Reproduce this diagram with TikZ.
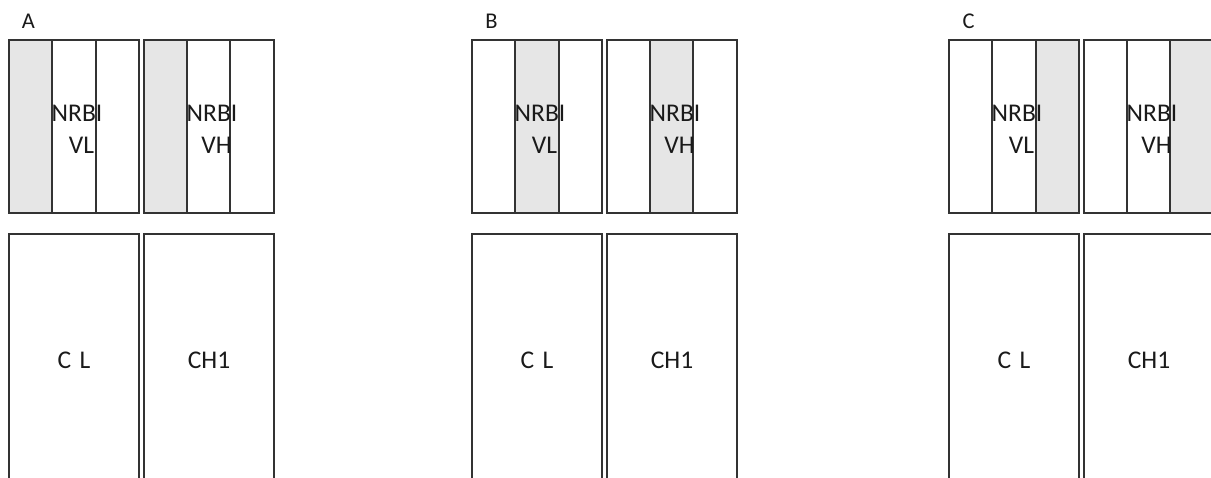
\documentclass[tikz,border=0pt]{standalone}
\usepackage{fontspec}
\setmainfont{Carlito}
\definecolor{shadegray}{HTML}{E6E6E6}
\definecolor{linegray}{HTML}{333333}
\definecolor{textgray}{HTML}{1A1A1A}
\tikzset{
  boxline/.style={draw=linegray, line width=1.5pt},
  shadecol/.style={fill=shadegray, draw=none},
  boxtext/.style={font=\fontsize{25.5}{32}\selectfont, align=center, inner sep=0pt, text=textgray},
  paneltag/.style={font=\fontsize{22.5}{26}\selectfont, inner sep=0pt, text=textgray}
}
\begin{document}
\begin{tikzpicture}[x=1pt,y=-1pt]
\useasboundingbox (0,0) rectangle (1211,477);
\clip (0,0) rectangle (1211,477);
\foreach \o/\tag/\s in {9/A/0, 472/B/1, 949/C/2}{
  % shaded columns
  \fill[shadecol] ({\o+\s*43.5},40) rectangle ({\o+(\s+1)*43.5},213);
  \fill[shadecol] ({\o+135+\s*43.5},40) rectangle ({\o+135+(\s+1)*43.5},213);
  % upper boxes
  \draw[boxline] (\o,40) rectangle ({\o+130},213);
  \draw[boxline] ({\o+43},40) -- ({\o+43},213);
  \draw[boxline] ({\o+87},40) -- ({\o+87},213);
  \draw[boxline] ({\o+135},40) rectangle ({\o+265},213);
  \draw[boxline] ({\o+178},40) -- ({\o+178},213);
  \draw[boxline] ({\o+221},40) -- ({\o+221},213);
  % lower boxes
  \draw[boxline] (\o,234) rectangle ({\o+130},500);
  \draw[boxline] ({\o+135},234) rectangle ({\o+265},500);
  % texts
  \node[paneltag] (tag\tag) at ({\o+19.5},21) {\tag};
  \node[boxtext] (vl\tag) at ({\o+68},129) {NRBI\\\hspace*{9pt}VL};
  \node[boxtext] (vh\tag) at ({\o+203},129) {NRBI\\\hspace*{9pt}VH};
  \node[boxtext] (cl\tag) at ({\o+65},360) {C\,\,L};
  \node[boxtext] (ch\tag) at ({\o+200},360) {CH1};
}
\end{tikzpicture}
\end{document}
